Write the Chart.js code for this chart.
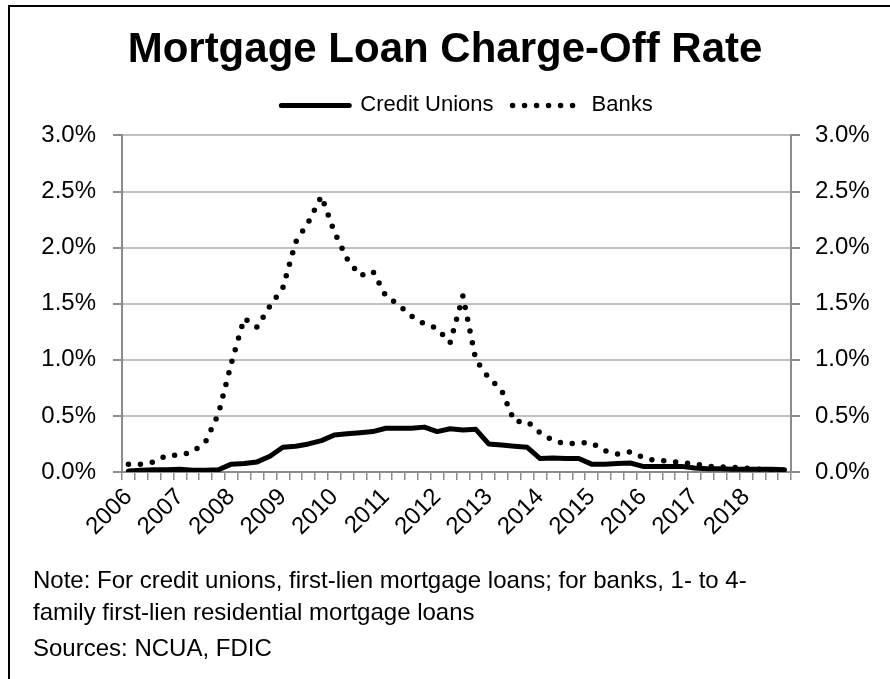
<!DOCTYPE html>
<html>
<head>
<meta charset="utf-8">
<script src="https://cdn.jsdelivr.net/npm/chart.js@4"></script>
<style>
  html, body { margin: 0; padding: 0; background: #fff; overflow: hidden; }
  #wrap { position: relative; width: 890px; height: 679px; }
  #frame { position: absolute; left: 8px; top: 5px; width: 1000px; height: 1000px; border: 2px solid #000; box-sizing: border-box; }
  #box { position: absolute; left: 0; top: 0; width: 890px; height: 679px; }
  .note { position: absolute; left: 33px; font: 24px Arial, "Liberation Sans", sans-serif; color: #000; line-height: 32px; }
</style>
</head>
<body>
<div id="wrap">
  <div id="frame"></div>
  <div id="box"><canvas id="myChart"></canvas></div>
  <div class="note" style="top:564px">Note: For credit unions, first-lien mortgage loans; for banks, 1- to 4-<br>family first-lien residential mortgage loans</div>
  <div class="note" style="top:632px">Sources: NCUA, FDIC</div>
</div>
<script>
// quarterly, 2006 Q1 - 2018 Q4 (values in %)
const quarters = [
  '2006', '2006 Q2', '2006 Q3', '2006 Q4', '2007', '2007 Q2', '2007 Q3', '2007 Q4',
  '2008', '2008 Q2', '2008 Q3', '2008 Q4', '2009', '2009 Q2', '2009 Q3', '2009 Q4',
  '2010', '2010 Q2', '2010 Q3', '2010 Q4', '2011', '2011 Q2', '2011 Q3', '2011 Q4',
  '2012', '2012 Q2', '2012 Q3', '2012 Q4', '2013', '2013 Q2', '2013 Q3', '2013 Q4',
  '2014', '2014 Q2', '2014 Q3', '2014 Q4', '2015', '2015 Q2', '2015 Q3', '2015 Q4',
  '2016', '2016 Q2', '2016 Q3', '2016 Q4', '2017', '2017 Q2', '2017 Q3', '2017 Q4',
  '2018', '2018 Q2', '2018 Q3', '2018 Q4'
];

const creditUnions = [
  0.01, 0.015, 0.02, 0.02, 0.025, 0.015, 0.015, 0.02,
  0.07, 0.075, 0.09, 0.14, 0.22, 0.23, 0.25, 0.28,
  0.33, 0.34, 0.35, 0.36, 0.39, 0.39, 0.39, 0.40,
  0.36, 0.385, 0.375, 0.38, 0.25, 0.24, 0.23, 0.22,
  0.12, 0.125, 0.12, 0.12, 0.07, 0.07, 0.075, 0.08,
  0.05, 0.05, 0.05, 0.05, 0.035, 0.03, 0.03, 0.025,
  0.025, 0.025, 0.025, 0.02
];

const banks = [
  0.07, 0.07, 0.09, 0.15, 0.15, 0.18, 0.27, 0.52,
  0.97, 1.37, 1.29, 1.48, 1.64, 2.05, 2.23, 2.46,
  2.14, 1.90, 1.75, 1.79, 1.57, 1.49, 1.39, 1.32,
  1.28, 1.15, 1.57, 1.00, 0.84, 0.73, 0.45, 0.45,
  0.35, 0.28, 0.25, 0.26, 0.26, 0.19, 0.16, 0.18,
  0.13, 0.10, 0.10, 0.08, 0.075, 0.05, 0.045, 0.04,
  0.035, 0.025, 0.015, 0.015
];

const yTicks = [0, 0.5, 1.0, 1.5, 2.0, 2.5, 3.0];

Chart.defaults.font.family = "Arial, 'Liberation Sans', sans-serif";
Chart.defaults.color = '#000';

const axisGrey = '#8c8c8c';
const gridGrey = '#c0c0c0';

const yAxis = (side) => ({
  type: 'linear',
  position: side,
  min: yTicks[0],
  max: yTicks[yTicks.length - 1],
  afterBuildTicks: (s) => { s.ticks = yTicks.map(v => ({ value: v })); },
  afterFit: (s) => { s.width = side === 'left' ? 122 : 99; },
  border: { color: axisGrey, width: 2 },
  grid: {
    drawOnChartArea: side === 'left',
    color: gridGrey,
    lineWidth: 2,
    tickColor: axisGrey,
    tickLength: 9,
    tickWidth: 2
  },
  ticks: {
    font: { size: 24 },
    padding: side === 'left' ? 17 : 15,
    callback: v => v.toFixed(1) + '%'
  }
});

// legend sits a bit right of centre in the original
const shiftLegend = {
  id: 'shiftLegend',
  afterLayout(chart) {
    chart.legend.left += 22;
    chart.legend.right += 22;
  }
};

const ctx = document.getElementById('myChart');

new Chart(ctx, {
  type: 'line',
  data: {
    labels: quarters,
    datasets: [{
      label: 'Credit Unions',
      data: creditUnions,
      borderColor: '#000',
      backgroundColor: '#000',
      borderWidth: 5,
      borderCapStyle: 'round',
      borderJoinStyle: 'round',
      pointRadius: 0,
      yAxisID: 'y'
    }, {
      label: 'Banks',
      data: banks,
      borderColor: '#000',
      backgroundColor: '#000',
      borderWidth: 5.5,
      borderDash: [0, 12],
      borderCapStyle: 'round',
      pointRadius: 0,
      yAxisID: 'y'
    }]
  },
  plugins: [shiftLegend],
  options: {
    responsive: true,
    maintainAspectRatio: false,
    animation: false,
    layout: { padding: { left: 0, right: 0, top: 0, bottom: 137 } },
    plugins: {
      title: {
        display: true,
        text: 'Mortgage Loan Charge-Off Rate',
        color: '#000',
        font: { size: 42, weight: 'bold' },
        padding: { top: 25, bottom: 0 }
      },
      legend: {
        display: true,
        position: 'top',
        labels: {
          usePointStyle: true,
          pointStyleWidth: 68,
          font: { size: 22 },
          color: '#000',
          padding: 19,
          generateLabels: (chart) => {
            const items = Chart.defaults.plugins.legend.labels.generateLabels(chart);
            items.forEach(it => {
              const ds = chart.data.datasets[it.datasetIndex];
              it.pointStyle = 'line';
              it.lineWidth = ds.borderWidth;
              it.lineDash = ds.borderDash || [];
              it.lineCap = ds.borderCapStyle;
            });
            return items;
          }
        }
      },
      tooltip: { enabled: false }
    },
    scales: {
      x: {
        type: 'category',
        offset: true,
        afterFit: (s) => { s.height = 70; },
        border: { color: axisGrey, width: 2 },
        grid: {
          offset: true,
          drawOnChartArea: false,
          color: axisGrey,
          lineWidth: 1.5,
          tickLength: 8
        },
        ticks: {
          autoSkip: false,
          maxRotation: 45,
          minRotation: 45,
          padding: 3,
          font: { size: 24 },
          callback: function(v, i) { return i % 4 === 0 ? this.getLabelForValue(v) : ''; }
        }
      },
      // empty strip that keeps the plot clear of the legend
      gap: {
        type: 'category',
        position: 'top',
        afterFit: (s) => { s.height = 9; },
        border: { display: false },
        grid: { display: false },
        ticks: { display: false }
      },
      y: yAxis('left'),
      y2: yAxis('right')
    }
  }
});
</script>
</body>
</html>
